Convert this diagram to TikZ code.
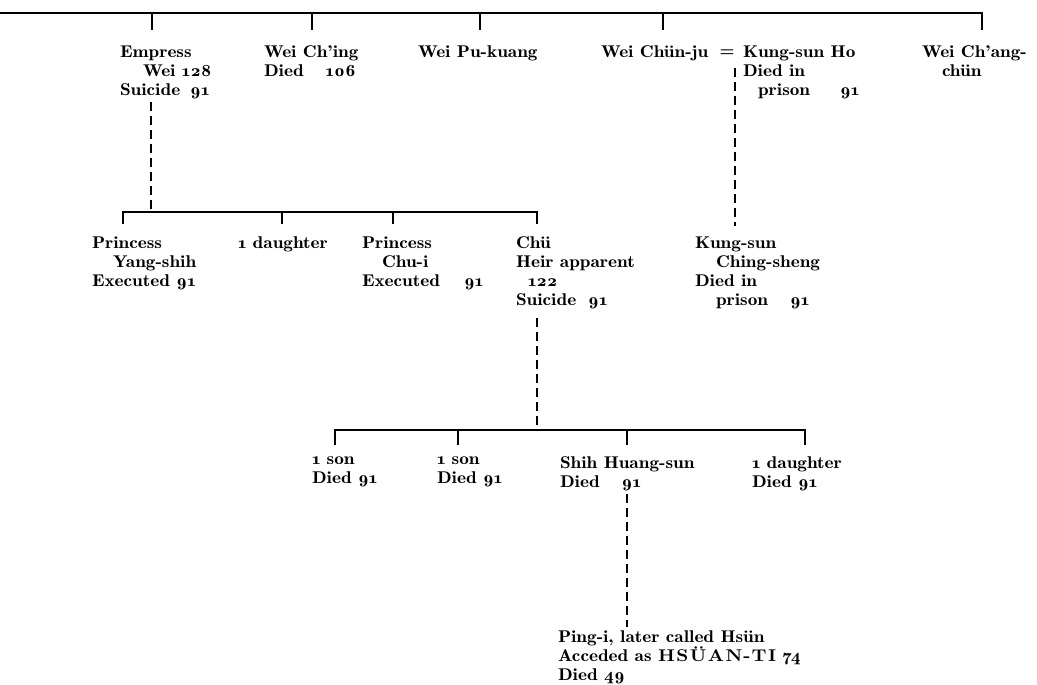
\documentclass[tikz,border=0pt]{standalone}
\font\reffont="[lmromandemi10-regular]:+tlig;+onum;extend=1.13" at 17pt
\font\refbold="[lmroman10-bold]:+tlig;extend=1.1" at 17pt
\begin{document}
\begin{tikzpicture}[x=1pt,y=-1pt,
  person/.style={anchor=north west,inner sep=0pt,outer sep=0pt,align=left,
    font={\reffont\baselineskip=19pt\relax},
    execute at begin node={\rule{0pt}{11.5pt}}},
  bar/.style={line width=2.6pt},
  desc/.style={line width=2.6pt,dash pattern=on 9pt off 5pt}]
\fill[white] (0,0) rectangle (1037,685);
\useasboundingbox (0,0) rectangle (1037,685);

% ---------- generation 1 ----------
\node[person] (emp) at (120,46) {Empress\\\hspace*{23pt}Wei 128\\Suicide\hspace{10pt}91};
\node[person] (ching) at (264,46) {Wei Ch’ing\\Died\hspace{22pt}106};
\node[person] (pukuang) at (418,46) {Wei Pu-kuang};
\node[person] (chunju) at (601,46) {Wei Chün-ju};
\node[anchor=base,inner sep=0pt,font=\reffont] (eq) at (727,57) {=};
\node[person] (ho) at (743,46) {Kung-sun Ho\\Died in\\\hspace*{15pt}prison\hspace{30pt}91};
\node[person] (changchun) at (922,46) {Wei Ch’ang-\\\hspace*{20pt}chün};

\coordinate (barL) at (0,13);
\coordinate (barR) at (982,13);
\coordinate (tEmp) at (152,13);
\coordinate (tChing) at (312,13);
\coordinate (tPu) at (480,13);
\coordinate (tChun) at (663,13);
\draw[bar] (barL) -- (barR) -- ++(0,17);
\draw[bar] (tEmp) -- ++(0,17);
\draw[bar] (tChing) -- ++(0,17);
\draw[bar] (tPu) -- ++(0,17);
\draw[bar] (tChun) -- ++(0,17);

% ---------- generation 2 ----------
\node[person] (yang) at (92,237) {Princess\\\hspace*{21pt}Yang-shih\\Executed 91};
\node[person] (dau1) at (238,237) {1 daughter};
\node[person] (chui) at (362,237) {Princess\\\hspace*{20pt}Chu-i\\Executed\hspace{24pt}91};
\node[person] (chu) at (516,237) {Chü\\Heir apparent\\\hspace*{12pt}122\\Suicide\hspace{12pt}91};
\node[person] (csheng) at (695,237) {Kung-sun\\\hspace*{21pt}Ching-sheng\\Died in\\\hspace*{21pt}prison\hspace{22pt}91};

\coordinate (empDown) at (151,102);
\coordinate (b2L) at (123,212);
\coordinate (b2R) at (537,212);
\coordinate (b2Emp) at (151,212);
\coordinate (b2Dau) at (282,212);
\coordinate (b2Chui) at (393,212);
\draw[desc] (empDown) -- (b2Emp);
\draw[bar] (b2L |- 0,224) -- (b2L) -- (b2R) -- ++(0,12);
\draw[bar] (b2Dau) -- ++(0,12);
\draw[bar] (b2Chui) -- ++(0,12);

\coordinate (mTop) at (735,68);
\coordinate (mBot) at (735,226);
\draw[desc] (mTop) -- (mBot);

% ---------- generation 3 ----------
\node[person] (son1) at (312,457) {1 son\\Died 91};
\node[person] (son2) at (437,457) {1 son\\Died 91};
\node[person] (shih) at (560,457) {Shih Huang-sun\\Died\hspace{22pt}91};
\node[person] (dau2) at (752,457) {1 daughter\\Died 91};

\coordinate (chuDown) at (537,318);
\coordinate (b3L) at (335,430);
\coordinate (b3R) at (805,430);
\coordinate (b3Chu) at (537,430);
\coordinate (b3Son2) at (458,430);
\coordinate (b3Shih) at (627,430);
\draw[desc] (chuDown) -- (b3Chu);
\draw[bar] (b3L |- 0,445) -- (b3L) -- (b3R) -- ++(0,15);
\draw[bar] (b3Son2) -- ++(0,15);
\draw[bar] (b3Shih) -- ++(0,15);

% ---------- generation 4 ----------
\node[person] (ping) at (558,631) {Ping-i, later called Hsün\\Acceded as {\refbold H\kern1.5pt S\kern1.5pt Ü\kern1.5pt A\kern1.5pt N\kern1pt-\kern1pt T\kern1.5pt I} 74\\Died 49};

\coordinate (shihDown) at (627,494);
\coordinate (pingUp) at (627,627);
\draw[desc] (shihDown) -- (pingUp);
\end{tikzpicture}
\end{document}
